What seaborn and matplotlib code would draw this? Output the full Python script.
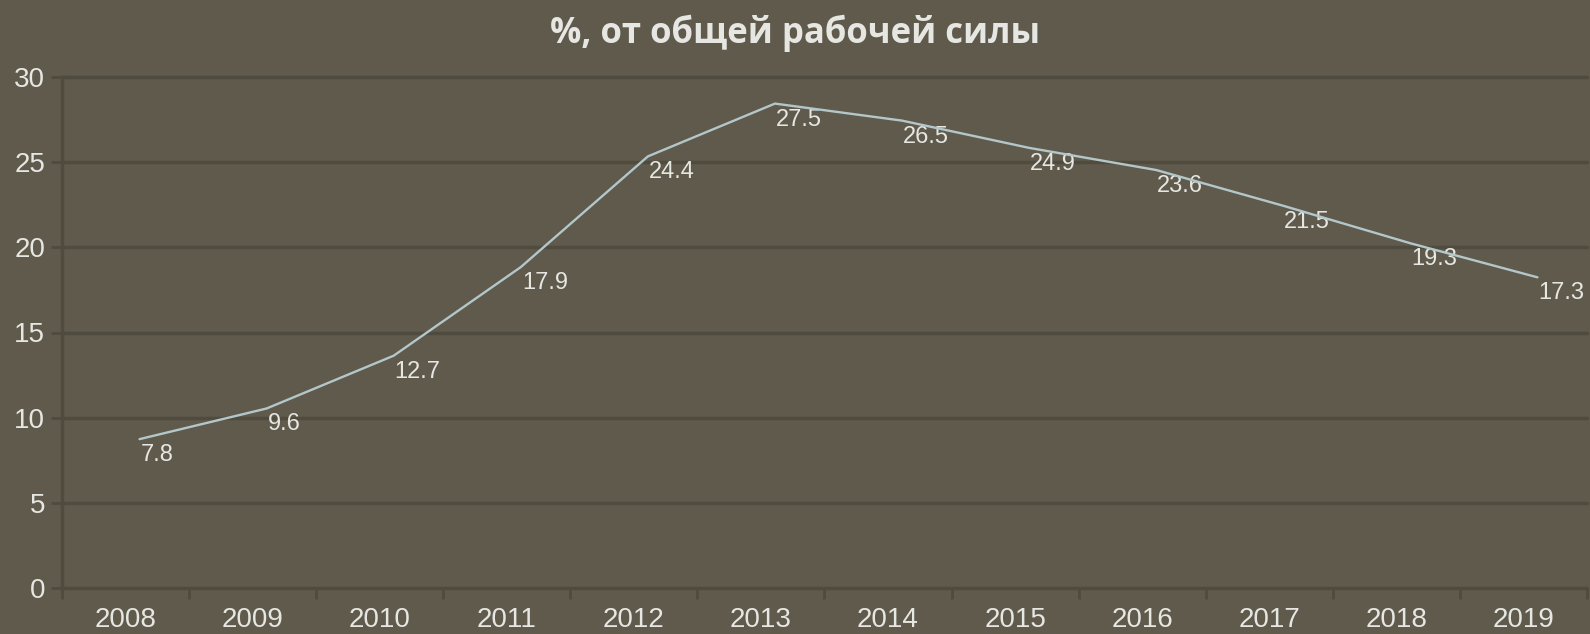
import matplotlib
matplotlib.use('Agg')
import matplotlib.pyplot as plt
import matplotlib.transforms as mtransforms
import numpy as np
import pandas as pd
import seaborn as sns

# ---- data ----
years = ['2008', '2009', '2010', '2011', '2012', '2013',
         '2014', '2015', '2016', '2017', '2018', '2019']
values = [7.8, 9.6, 12.7, 17.9, 24.4, 27.5, 26.5, 24.9, 23.6, 21.5, 19.3, 17.3]
yticks = [0, 5, 10, 15, 20, 25, 30]
title = '%, от общей рабочей силы'

# ---- style ----
BG = '#5f5a4b'
GRID = '#4f4b3e'
LINE = '#b3c7cb'
TXT = '#e6e6e2'

sns.set_theme(style='dark')
plt.rcParams['font.family'] = ['Liberation Sans', 'DejaVu Sans']

W, H = 1590, 634
fig = plt.figure(figsize=(W / 100, H / 100), dpi=100, facecolor=BG)
ax = fig.add_axes([62 / W, 46 / H, 1525 / W, 511 / H])
ax.set_facecolor(BG)

df = pd.DataFrame({'year': years, 'value': values})
sns.lineplot(data=df, x='year', y='value', ax=ax, color=LINE, linewidth=1.7,
             zorder=4)
line = ax.lines[0]
line.set_transform(mtransforms.offset_copy(ax.transData, fig=fig, x=14, y=16,
                                           units='dots'))
line.set_clip_on(False)

for i, v in enumerate(values):
    ax.annotate(f'{v:.1f}', (i, v), xytext=(15, 0), textcoords='offset pixels',
                ha='left', va='center', fontsize=17, color=TXT, zorder=3,
                annotation_clip=False)

ax.set_xlim(-0.5, len(years) - 0.5)
ax.set_ylim(0, 30)
ax.set_yticks(yticks)
ax.set_xticks(range(len(years)))
ax.set_xticklabels(years)
ax.set_xticks(np.arange(-0.5, len(years), 1.0), minor=True)

ax.grid(axis='y', color=GRID, linewidth=2.5)
ax.grid(axis='x', visible=False)
ax.set_axisbelow(True)
for gl in ax.get_ygridlines():
    gl.set_clip_on(False)

ax.tick_params(axis='y', which='major', length=8, width=2, color=GRID,
               labelsize=20, labelcolor=TXT, pad=4, left=True)
ax.tick_params(axis='x', which='major', length=0, labelsize=20,
               labelcolor=TXT, pad=14)
ax.tick_params(axis='x', which='minor', length=8, width=2, color=GRID,
               bottom=True)

for s in ['top', 'right', 'bottom']:
    ax.spines[s].set_visible(False)
ax.spines['left'].set_color(GRID)
ax.spines['left'].set_linewidth(2.5)

ax.set_xlabel('')
ax.set_ylabel('')

fig.text(0.5, 1 - 33 / H, title, ha='center', va='center', fontsize=25,
         fontweight='bold', color=TXT, family=['Open Sans', 'DejaVu Sans'])

fig.savefig('out.png', dpi=100, facecolor=BG)
